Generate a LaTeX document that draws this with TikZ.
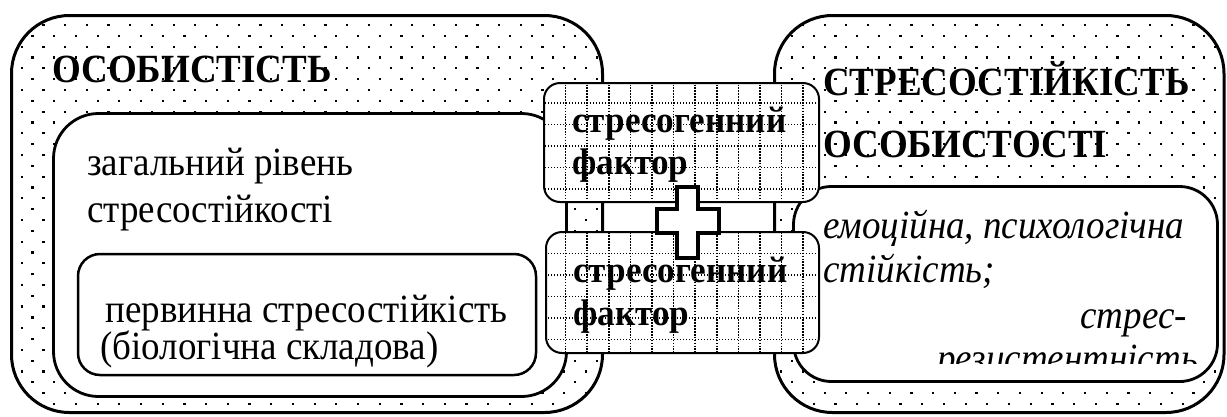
\documentclass[tikz,border=0pt]{standalone}
\usepackage{fontspec}
\setmainfont{Liberation Serif}
\newcommand{\plxs}[1]{\scalebox{0.925}[1]{#1}}
\newcommand{\stxs}[1]{\scalebox{0.95}[1]{#1}}
\begin{document}
\begin{tikzpicture}[x=1pt,y=-1pt,
  outer/.style={line width=3pt},
  inner/.style={line width=2.8pt, fill=white},
  sbox/.style={line width=2pt},
  hgrid/.style={line width=1.2pt, dash pattern=on 1.1pt off 1.9pt},
  vgrid/.style={line width=1.6pt, dash pattern=on 1.6pt off 1.3pt},
  title/.style={font=\fontsize{40}{30}\selectfont\bfseries, anchor=base west, inner sep=0pt},
  plain/.style={font=\fontsize{40}{30}\selectfont, anchor=base west, inner sep=0pt},
  ital/.style={font=\fontsize{40}{30}\selectfont\itshape, anchor=base west, inner sep=0pt},
  stress/.style={font=\fontsize{37}{36}\selectfont\bfseries, anchor=base west, inner sep=0pt},
  crossline/.style={line width=4pt, fill=white, line join=miter}
]
\useasboundingbox (0,0) rectangle (1227,416);
\fill[white] (0,0) rectangle (1227,416);

% dotted fill of the two outer boxes
\begin{scope}
\clip[rounded corners=58pt] (11.5,15.5) rectangle (602.5,412.5) (774.5,15.5) rectangle (1224,412.5);
\foreach \j in {0,...,37} {
  \pgfmathsetmacro\off{mod(\j+1,2)*10.85}
  \pgfmathsetmacro\yy{25+10.83*(\j-1)}
  \foreach \i in {0,...,56} {
    \fill ({\i*21.7+\off-1.1},{\yy-1.1}) rectangle ++(2.2,2.2);
  }
}
\end{scope}
\draw[outer, rounded corners=58pt] (11.5,15.5) rectangle (602.5,412.5);
\draw[outer, rounded corners=58pt] (774.5,15.5) rectangle (1224,412.5);

% inner boxes
\draw[inner, rounded corners=45pt] (53.5,113.5) rectangle (566.5,396.5);
\draw[line width=2.5pt, fill=white, rounded corners=22pt] (78,254) rectangle (536,375);
\draw[inner, rounded corners=38pt] (793.5,186.5) rectangle (1217.5,381.5);

% texts
\node[title] (t1) at (52,82) {\plxs{ОСОБИСТІСТЬ}};
\node[title] (t2) at (823,95) {\plxs{СТРЕСОСТІЙКІСТЬ}};
\node[title] (t3) at (823,157) {\plxs{ОСОБИСТОСТІ}};
\node[plain] (t4) at (87,175) {\plxs{загальний рівень}};
\node[plain] (t5) at (87,222) {\plxs{стресостійкості}};
\node[plain] (t6) at (100,322) {\plxs{\begin{tabular}[t]{@{}l@{}}\hspace{5.5pt}первинна стресостійкість\\(біологічна складова)\end{tabular}}};
\node[ital] (t8) at (823,238) {\plxs{емоційна, психологічна}};
\node[ital] (t9) at (823,282) {\plxs{стійкість;}};
\node[ital, anchor=base east] (t10) at (1187,328) {\plxs{стрес-}};
\begin{scope}
\clip (795,188) rectangle (1216,363);
\node[ital] (t11) at (937,371) {\plxs{резистентність}};
\end{scope}

% stressor boxes
\foreach \bx/\by/\ey in {544/83/202, 546/232/353} {
  \fill[white, rounded corners=16pt] (\bx,\by) rectangle (819,\ey);
  \begin{scope}
    \clip[rounded corners=16pt] (\bx,\by) rectangle (819,\ey);
    \foreach \k in {-1,...,13} {
      \draw[hgrid] (530,{103+21.5*\k}) -- (830,{103+21.5*\k});
      \draw[vgrid] ({565.5+21.6*\k},70) -- ({565.5+21.6*\k},370);
    }
  \end{scope}
  \draw[sbox, rounded corners=16pt] (\bx,\by) rectangle (819,\ey);
}
\node[stress] (s1) at (572,132) {\stxs{стресогенний}};
\node[stress] (s2) at (572,174) {\stxs{фактор}};
\node[stress] (s3) at (573,282) {\stxs{стресогенний}};
\node[stress] (s4) at (573,325) {\stxs{фактор}};

% cross
\draw[crossline] (677,187) -- (698,187) -- (698,209) -- (719,209) -- (719,233) -- (698,233) -- (698,258) -- (677,258) -- (677,233) -- (657,233) -- (657,209) -- (677,209) -- cycle;
\end{tikzpicture}
\end{document}
